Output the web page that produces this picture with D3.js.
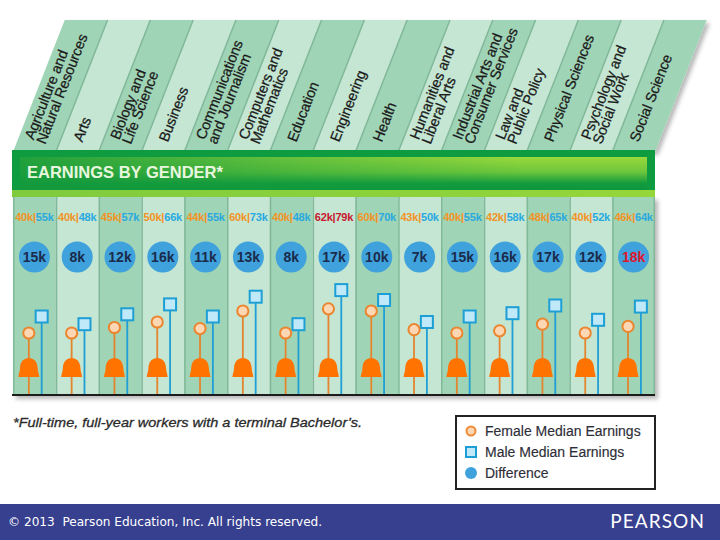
<!DOCTYPE html>
<html><head><meta charset="utf-8">
<script src="https://cdn.jsdelivr.net/npm/d3@7"></script>
<style>body{margin:0;background:#fff;} svg{display:block;}</style>
</head><body>
<script>
// ---------- data ----------
const categories = ["Agriculture and Natural Resources","Arts","Biology and Life Science","Business","Communications and Journalism","Computers and Mathematics","Education","Engineering","Health","Humanities and Liberal Arts","Industrial Arts and Consumer Services","Law and Public Policy","Physical Sciences","Psychology and Social Work","Social Science"];
const labelLines = [["Agriculture and","Natural Resources"],["Arts"],["Biology and","Life Science"],["Business"],["Communications","and Journalism"],["Computers and","Mathematics"],["Education"],["Engineering"],["Health"],["Humanities and","Liberal Arts"],["Industrial Arts and","Consumer Services"],["Law and","Public Policy"],["Physical Sciences"],["Psychology and","Social Work"],["Social Science"]];
const female = [40,40,45,50,44,60,40,62,60,43,40,42,48,40,46];
const male = [55,48,57,66,55,73,48,79,70,50,55,58,65,52,64];
const difference = [15,8,12,16,11,13,8,17,10,7,15,16,17,12,18];
const highlightEarnings = ["Engineering"];
const highlightGap = ["Social Science"];
const legendItems = ["Female Median Earnings","Male Median Earnings","Difference"];
const title = "EARNINGS BY GENDER*";
const footnote = "*Full-time, full-year workers with a terminal Bachelor\u2019s.";

// ---------- layout ----------
const W = 720, H = 540;
const svg = d3.select("body").append("svg").attr("width", W).attr("height", H);
const defs = svg.append("defs");
const x = d3.scaleBand().domain(categories).range([13, 655]).padding(0);
const bw = x.bandwidth();
const y = d3.scaleLinear().domain([40, 80]).range([333, 289]);
const baseY = 395, bodyTop = 197, stripTop = 20, stripBottom = 152;
const slant = 0.392;
const darkCol = "#a0d4b6", lightCol = "#c4e6d3", edgeCol = "#80b899";

const sh = defs.append("filter").attr("id","shadow").attr("x","-5%").attr("y","-5%").attr("width","115%").attr("height","115%");
sh.append("feDropShadow").attr("dx",3).attr("dy",3).attr("stdDeviation",2).attr("flood-color","#000").attr("flood-opacity",0.28);

const g1 = defs.append("linearGradient").attr("id","bannerV").attr("x1",0).attr("y1",0).attr("x2",0).attr("y2",1);
g1.append("stop").attr("offset","0%").attr("stop-color","#9ad93c");
g1.append("stop").attr("offset","45%").attr("stop-color","#6cc63c");
g1.append("stop").attr("offset","80%").attr("stop-color","#129b3e");
g1.append("stop").attr("offset","100%").attr("stop-color","#0d963d");
const g2 = defs.append("linearGradient").attr("id","bannerH").attr("x1",0).attr("y1",0).attr("x2",1).attr("y2",0);
g2.append("stop").attr("offset","0%").attr("stop-color","#149a3c").attr("stop-opacity",0.9);
g2.append("stop").attr("offset","45%").attr("stop-color","#149a3c").attr("stop-opacity",0.35);
g2.append("stop").attr("offset","80%").attr("stop-color","#149a3c").attr("stop-opacity",0);
const g3 = defs.append("linearGradient").attr("id","bannerB").attr("x1",0).attr("y1",0).attr("x2",1).attr("y2",0);
g3.append("stop").attr("offset","0%").attr("stop-color","#7fcb3e");
g3.append("stop").attr("offset","100%").attr("stop-color","#95d63a");

// ---------- slanted header strips ----------
const hdr = svg.append("g").attr("filter","url(#shadow)");
hdr.selectAll("path.strip").data(categories).join("path")
  .attr("class","strip")
  .attr("d", d => {
    const x0 = x(d), dx = slant * (stripBottom - stripTop);
    return `M${x0},${stripBottom}L${x0+bw},${stripBottom}L${x0+bw+dx},${stripTop}L${x0+dx},${stripTop}Z`;
  })
  .attr("fill", (d,i) => i % 2 === 0 ? darkCol : lightCol);
hdr.selectAll("path.sedge").data(categories.slice(1)).join("path")
  .attr("class","sedge")
  .attr("d", d => { const x0 = x(d), dx = slant*(stripBottom-stripTop); return `M${x0},${stripBottom}L${x0+dx},${stripTop}`; })
  .attr("stroke", edgeCol).attr("stroke-width",1.5);

const ang = -Math.atan2(1, slant) * 180 / Math.PI;
const lh = 12.5;
const labG = svg.append("g");
categories.forEach((c, i) => {
  const lines = labelLines[i];
  const cy = 141;
  const cx = x(c) + bw/2 + slant*(stripBottom - cy) - 4;
  const t = labG.append("text").attr("transform", `translate(${cx},${cy}) rotate(${ang})`)
    .attr("font-family","Liberation Sans, Arial, sans-serif").attr("font-size",14.5).attr("letter-spacing",-0.2)
    .attr("fill","#1a1a1a").attr("stroke","#1a1a1a").attr("stroke-width",0.25);
  lines.forEach((ln, k) => {
    t.append("tspan").attr("x",0).attr("y",(k - (lines.length-1)/2)*lh + 5).text(ln);
  });
});

// ---------- body columns ----------
const body = svg.append("g").attr("filter","url(#shadow)");
body.selectAll("rect.col").data(categories).join("rect")
  .attr("class","col").attr("x", d => x(d)).attr("y", bodyTop).attr("width", bw).attr("height", baseY - bodyTop)
  .attr("fill", (d,i) => i % 2 === 0 ? darkCol : lightCol);
body.selectAll("line.cedge").data(categories.concat(["end"])).join("line")
  .attr("class","cedge")
  .attr("x1", (d,i) => i < categories.length ? x(d) + 0.75 : 654.25)
  .attr("x2", (d,i) => i < categories.length ? x(d) + 0.75 : 654.25)
  .attr("y1", bodyTop).attr("y2", baseY).attr("stroke", edgeCol).attr("stroke-width",1.5);
body.append("line").attr("x1",12).attr("x2",655).attr("y1",baseY).attr("y2",baseY).attr("stroke","#1b1b1b").attr("stroke-width",2);

// ---------- banner ----------
const bn = svg.append("g");
bn.append("rect").attr("x",12).attr("y",150).attr("width",643).attr("height",47).attr("fill","#0f9c40");
bn.append("rect").attr("x",12).attr("y",190).attr("width",643).attr("height",7).attr("fill","url(#bannerB)");
bn.append("rect").attr("x",20).attr("y",157).attr("width",627).attr("height",33).attr("fill","url(#bannerV)");
bn.append("rect").attr("x",20).attr("y",157).attr("width",627).attr("height",33).attr("fill","url(#bannerH)");
bn.append("text").attr("x",27).attr("y",178).attr("font-family","Liberation Sans, Arial, sans-serif")
  .attr("font-weight","bold").attr("font-size",16.5).attr("fill","#e9f6df").text(title);

// ---------- earnings labels ----------
const elab = svg.append("g");
categories.forEach((c, i) => {
  const hi = highlightEarnings.includes(c);
  const t = elab.append("text").attr("x", x(c) + bw/2).attr("y", 221).attr("text-anchor","middle")
    .attr("font-family","Liberation Sans, Arial, sans-serif").attr("font-weight","bold").attr("font-size",11)
    .attr("letter-spacing",-0.2);
  t.append("tspan").attr("fill", hi ? "#c8172e" : "#f39325").text(female[i] + "k|");
  t.append("tspan").attr("fill", hi ? "#c8172e" : "#2aa9df").text(male[i] + "k");
});

// ---------- difference bubbles ----------
const dg = svg.append("g");
dg.selectAll("circle").data(categories).join("circle")
  .attr("cx", d => x(d) + bw/2).attr("cy", 257).attr("r", 15.5).attr("fill", "#3fa2dc");
dg.selectAll("text").data(categories).join("text")
  .attr("x", d => x(d) + bw/2).attr("y", 262).attr("text-anchor","middle")
  .attr("font-family","Liberation Sans, Arial, sans-serif").attr("font-weight","bold").attr("font-size",14)
  .attr("fill", d => highlightGap.includes(d) ? "#e0162d" : "#1b2b4b")
  .text((d,i) => difference[i] + "k");

// ---------- lollipops ----------
const fx = d => x(d) + bw*0.37, mx = d => x(d) + bw*0.67;
const lp = svg.append("g");
lp.selectAll("line.ms").data(categories).join("line").attr("class","ms")
  .attr("x1", mx).attr("x2", mx).attr("y1", (d,i) => y(male[i]) + 6).attr("y2", baseY - 1)
  .attr("stroke","#1e9fd6").attr("stroke-width",1.8);
lp.selectAll("rect.msq").data(categories).join("rect").attr("class","msq")
  .attr("x", d => mx(d) - 6).attr("y", (d,i) => y(male[i]) - 6).attr("width",12).attr("height",12)
  .attr("fill","#bfe8f8").attr("stroke","#1d9fd5").attr("stroke-width",2);
lp.selectAll("line.fs").data(categories).join("line").attr("class","fs")
  .attr("x1", fx).attr("x2", fx).attr("y1", (d,i) => y(female[i]) + 6).attr("y2", baseY - 1)
  .attr("stroke","#e4852e").attr("stroke-width",1.8);
const bellY = 377;
lp.selectAll("path.bell").data(categories).join("path").attr("class","bell")
  .attr("transform", d => `translate(${fx(d)},${bellY})`)
  .attr("d","M-10.5,0L10.5,0C10.2,-3 9,-5 8.8,-9C8.6,-15.5 4.8,-19 0,-19C-4.8,-19 -8.6,-15.5 -8.8,-9C-9,-5 -10.2,-3 -10.5,0Z")
  .attr("fill","#ff7300");
lp.selectAll("circle.fc").data(categories).join("circle").attr("class","fc")
  .attr("cx", fx).attr("cy", (d,i) => y(female[i])).attr("r",5.6)
  .attr("fill","#fdd7b3").attr("stroke","#ea8630").attr("stroke-width",2);

// ---------- footnote ----------
svg.append("text").attr("x",13).attr("y",427).attr("font-family","Liberation Sans, Arial, sans-serif")
  .attr("font-style","italic").attr("font-size",13.5).attr("fill","#2a2a2a")
  .attr("stroke","#2a2a2a").attr("stroke-width",0.3)
  .attr("textLength",349).attr("lengthAdjust","spacingAndGlyphs").text(footnote);

// ---------- legend ----------
const lg = svg.append("g");
lg.append("rect").attr("x",456).attr("y",416).attr("width",199).attr("height",73).attr("fill","#fff").attr("stroke","#222").attr("stroke-width",2);
const ly = [431, 452, 473];
lg.append("circle").attr("cx",471).attr("cy",ly[0]).attr("r",4.5).attr("fill","#fdd7b3").attr("stroke","#ee8a38").attr("stroke-width",2);
lg.append("rect").attr("x",466).attr("y",ly[1]-5).attr("width",10).attr("height",10).attr("fill","#bfe8f8").attr("stroke","#1d9fd5").attr("stroke-width",2);
lg.append("circle").attr("cx",471).attr("cy",ly[2]).attr("r",6).attr("fill","#3fa2dc");
lg.selectAll("text").data(legendItems).join("text")
  .attr("x",485).attr("y",(d,i) => ly[i] + 5).attr("font-family","Liberation Sans, Arial, sans-serif")
  .attr("font-size",14).attr("fill","#2e2e38").attr("stroke","#2e2e38").attr("stroke-width",0.15).text(d => d);

// ---------- footer ----------
svg.append("rect").attr("x",0).attr("y",504).attr("width",W).attr("height",36).attr("fill","#373f8f");
svg.append("text").attr("x",8).attr("y",526).attr("font-family","DejaVu Sans, Verdana, sans-serif")
  .attr("font-size",12.1).attr("fill","#fff").style("white-space","pre").text("\u00a9 2013  Pearson Education, Inc. All rights reserved.");
svg.append("text").attr("x",705).attr("y",528).attr("text-anchor","end").attr("font-family","Lato, Open Sans, sans-serif")
  .attr("font-size",19).attr("letter-spacing",1.1).attr("fill","#fff").text("PEARSON");
</script>
</body></html>
